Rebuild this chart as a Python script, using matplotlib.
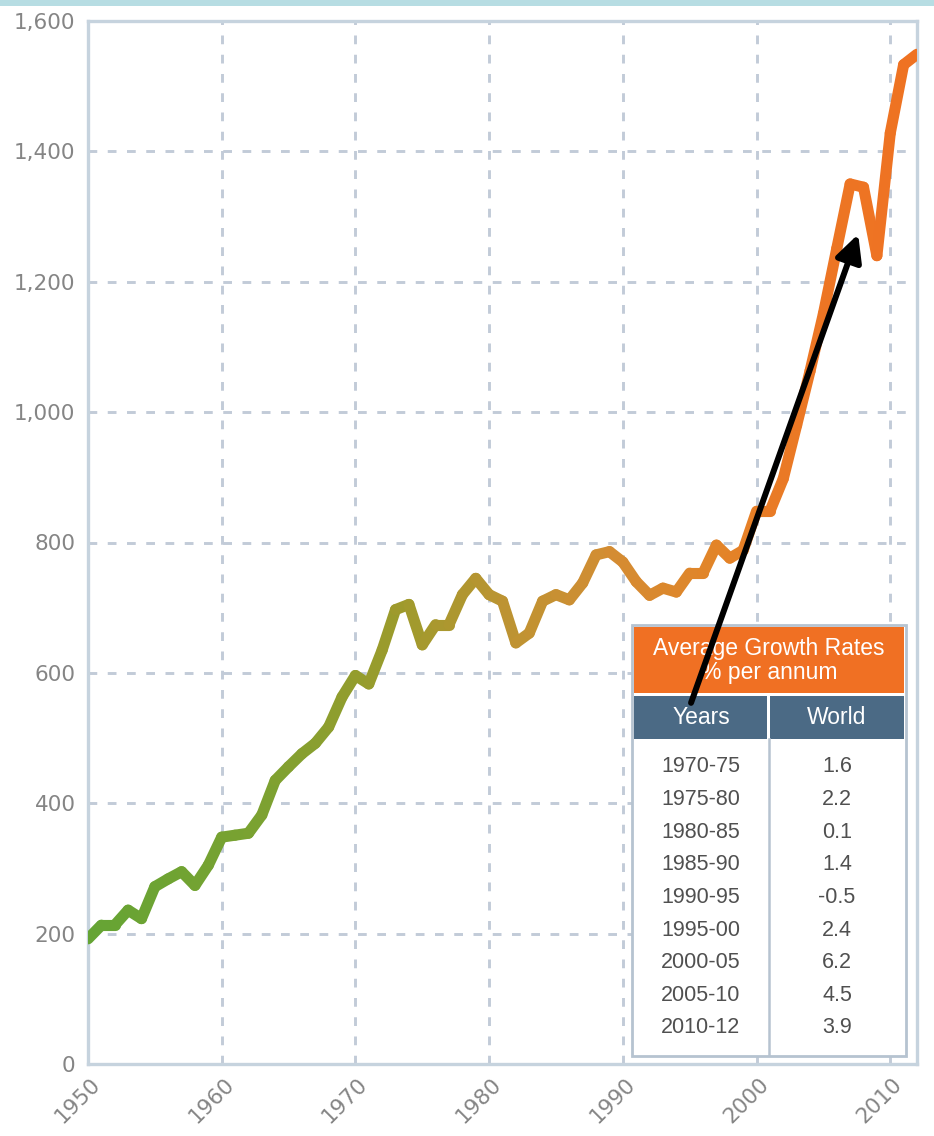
import numpy as np
import matplotlib
matplotlib.use("Agg")
import matplotlib.pyplot as plt
from matplotlib.collections import LineCollection
from matplotlib.colors import LinearSegmentedColormap
from matplotlib.patches import Rectangle
from matplotlib.transforms import ScaledTranslation

# ---------------- data ----------------
years = list(range(1950, 2013))
values = [192, 213, 213, 236, 223, 272, 284, 295, 274, 305,
          348, 351, 354, 382, 435, 456, 476, 492, 517, 563,
          596, 583, 635, 697, 705, 643, 674, 674, 720, 745,
          720, 710, 646, 661, 710, 720, 712, 738, 781, 786,
          770, 740, 719, 730, 724, 753, 753, 796, 776, 788,
          848, 848, 898, 980, 1063, 1151, 1251, 1350, 1345, 1240,
          1428, 1533, 1549]

x_ticks = [1950, 1960, 1970, 1980, 1990, 2000, 2010]
y_ticks = [0, 200, 400, 600, 800, 1000, 1200, 1400, 1600]

table_title = ["Average Growth Rates", "% per annum"]
table_header = ["Years", "World"]
periods = ["1970-75", "1975-80", "1980-85", "1985-90", "1990-95",
           "1995-00", "2000-05", "2005-10", "2010-12"]
rates = ["1.6", "2.2", "0.1", "1.4", "-0.5", "2.4", "6.2", "4.5", "3.9"]

arrow_tail = (1995.1, 554)
arrow_head = (2007.6, 1273)

# ---------------- figure ----------------
W, H = 934, 1136
fig = plt.figure(figsize=(W / 100, H / 100), dpi=100)
fig.patch.set_facecolor("white")

def fx(x):
    return x / W

def fy(y):
    return 1 - y / H

ax = fig.add_axes([fx(88), fy(1064), (917 - 88) / W, (1064 - 21) / H])
ax.set_xlim(1950, 2012)
ax.set_ylim(0, 1600)

# top band
fig.add_artist(Rectangle((0, fy(6)), 1, 6 / H, transform=fig.transFigure,
                         facecolor="#b7dde3", edgecolor="none"))

# grid
grid_col = "#c2cbd8"
ax.set_xticks(x_ticks)
ax.set_yticks(y_ticks)
ax.grid(True, linestyle=(0, (3.0, 3.6)), color=grid_col, linewidth=2.1, zorder=0)
ax.set_axisbelow(True)

for s in ax.spines.values():
    s.set_color("#c6d3de")
    s.set_linewidth(2.4)

tick_col = "#858585"
ax.tick_params(length=0, pad=9, colors=tick_col, labelsize=15.5)
ax.set_yticklabels([f"{v:,}" for v in y_ticks])
ax.set_xticklabels([str(v) for v in x_ticks], rotation=45, ha="right",
                   va="center", rotation_mode="anchor")
off = ScaledTranslation(9 / 100, -5 / 100, fig.dpi_scale_trans)
for lab in ax.get_xticklabels():
    lab.set_transform(lab.get_transform() + off)

# gradient line
cmap = LinearSegmentedColormap.from_list("g", [
    (0.0, "#64a434"), (0.2, "#7aa231"), (0.37, "#9c9b2c"),
    (0.5, "#bb9432"), (0.63, "#d38d33"), (0.77, "#e38428"),
    (0.87, "#ec7624"), (1.0, "#ef7222")])
yrs = np.array(years, dtype=float)
vals = np.array(values, dtype=float)
pts = np.column_stack([yrs, vals]).reshape(-1, 1, 2)
segs = np.concatenate([pts[:-1], pts[1:]], axis=1)
mids = (yrs[:-1] + yrs[1:]) / 2
cols = cmap((mids - yrs.min()) / (yrs.max() - yrs.min()))
lc = LineCollection(segs, colors=cols, linewidths=8.0, capstyle="round",
                    joinstyle="round", zorder=3)
ax.add_collection(lc)

# ---------------- table ----------------
tf = fig.transFigure
def rect(x0, y0, x1, y1, fc, ec="none", lw=0, z=5):
    ax.add_patch(Rectangle((fx(x0), fy(y1)), fx(x1) - fx(x0), fy(y0) - fy(y1),
                           transform=tf, facecolor=fc, edgecolor=ec,
                           linewidth=lw, zorder=z, clip_on=False))

rect(632, 625, 906, 1056, "white", ec="#b6c3d0", lw=2.0, z=5)
rect(634, 627, 904, 693, "#f07023", z=6)
rect(634, 696, 767, 739, "#4b6a85", z=6)
rect(770, 696, 904, 739, "#4b6a85", z=6)
ax.plot([fx(768.5), fx(768.5)], [fy(739), fy(1055)], transform=tf,
        color="#b6c3d0", lw=1.8, zorder=6, clip_on=False)

tfont = "Liberation Sans"
ax.text(fx(769), fy(648), table_title[0], transform=tf, ha="center",
        va="center", color="white", fontsize=16.5, family=tfont, zorder=7)
ax.text(fx(769), fy(673), table_title[1], transform=tf, ha="center",
        va="center", color="white", fontsize=16.5, family=tfont, zorder=7)
ax.text(fx(701), fy(718), table_header[0], transform=tf, ha="center",
        va="center", color="white", fontsize=16.5, family=tfont, zorder=7)
ax.text(fx(837), fy(718), table_header[1], transform=tf, ha="center",
        va="center", color="white", fontsize=16.5, family=tfont, zorder=7)
for i, (p, r) in enumerate(zip(periods, rates)):
    yy = 767 + i * 32.6
    ax.text(fx(701), fy(yy), p, transform=tf, ha="center", va="center",
            color="#505050", fontsize=15.5, family=tfont, zorder=7)
    ax.text(fx(837), fy(yy), r, transform=tf, ha="center", va="center",
            color="#505050", fontsize=15.5, family=tfont, zorder=7)

# ---------------- arrow ----------------
ax.annotate("", xy=arrow_head, xytext=arrow_tail, xycoords="data",
            textcoords="data", annotation_clip=False, zorder=10,
            arrowprops=dict(arrowstyle="-|>,head_length=0.5,head_width=0.25",
                            mutation_scale=32, lw=4.3, color="black",
                            shrinkA=0, shrinkB=0))

fig.savefig("out.png", dpi=100, facecolor="white")
